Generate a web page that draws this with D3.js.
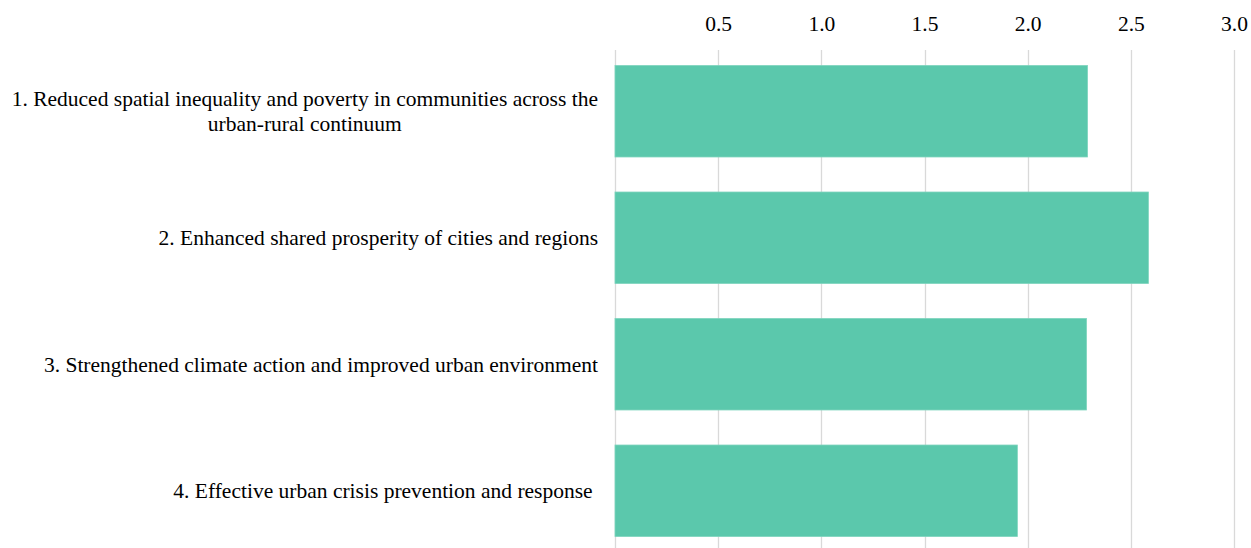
<!DOCTYPE html>
<html>
<head>
<meta charset="utf-8">
<script src="https://cdn.jsdelivr.net/npm/d3@7"></script>
<style>
  body { margin: 0; background: #fff; }
</style>
</head>
<body>
<div id="chart"></div>
<script>
// Data
const categories = [
    ["1. Reduced spatial inequality and poverty in communities across the", "urban-rural continuum"],
    ["2. Enhanced shared prosperity of cities and regions"],
    ["3. Strengthened climate action and improved urban environment"],
    ["4. Effective urban crisis prevention and response\u00a0"]
];
const values = [2.29, 2.585, 2.285, 1.95];
const tickValues = [0.5, 1.0, 1.5, 2.0, 2.5, 3.0];

const FONT = '"Liberation Serif"';
const FONT_SIZE = "21.5px";

const width = 1251, height = 548;
const margin = { top: 48, right: 17, bottom: -6, left: 615 };
const innerW = width - margin.left - margin.right;
const innerH = height - margin.top - margin.bottom;

const svg = d3.select("#chart")
    .append("svg")
    .attr("width", width)
    .attr("height", height);

const g = svg.append("g")
    .attr("transform", `translate(${margin.left},${margin.top})`);

// Scales
const x = d3.scaleLinear()
    .domain([0, 3.0])
    .range([0, innerW]);

const y = d3.scaleBand()
    .domain(d3.range(categories.length))
    .range([0, innerH])
    .paddingInner(0.277)
    .paddingOuter(0.1385);

// Gridlines (including zero line)
g.selectAll(".grid")
    .data([0].concat(tickValues))
    .enter()
    .append("line")
    .attr("x1", d => Math.round(x(d)) + 0.5)
    .attr("x2", d => Math.round(x(d)) + 0.5)
    .attr("y1", 2)
    .attr("y2", height)
    .attr("stroke", "#d9d9d9")
    .attr("stroke-width", 1.3);

// Top axis labels
const axis = g.append("g")
    .call(d3.axisTop(x).tickValues(tickValues).tickFormat(d3.format(".1f")).tickSize(0).tickPadding(17));
axis.attr("font-family", null).attr("font-size", null);
axis.select(".domain").remove();
axis.selectAll("text")
    .style("font-family", FONT)
    .style("font-size", FONT_SIZE)
    .style("fill", "#000");

// Bars
g.selectAll(".bar")
    .data(values)
    .enter()
    .append("rect")
    .attr("x", 0)
    .attr("y", (d, i) => y(i))
    .attr("width", d => x(d))
    .attr("height", y.bandwidth())
    .attr("fill", "#5bc8ac")
    .attr("stroke", "#7dd4bd")
    .attr("stroke-width", 0.8);

// Category labels: lines centered in a block, block right-aligned
const labelRight = -17;
const lineH = 25;
categories.forEach((lines, i) => {
    const cy = y(i) + y.bandwidth() / 2;
    const t = g.append("text")
        .style("font-family", FONT)
        .style("font-size", FONT_SIZE)
        .style("fill", "#000")
        .attr("text-anchor", "middle");
    const tspans = lines.map((line, j) => t.append("tspan")
        .attr("y", cy + (j - (lines.length - 1) / 2) * lineH)
        .attr("dy", "0.35em")
        .text(line));
    const maxW = d3.max(tspans, s => s.node().getComputedTextLength());
    tspans.forEach(s => s.attr("x", labelRight - maxW / 2));
});
</script>
</body>
</html>
